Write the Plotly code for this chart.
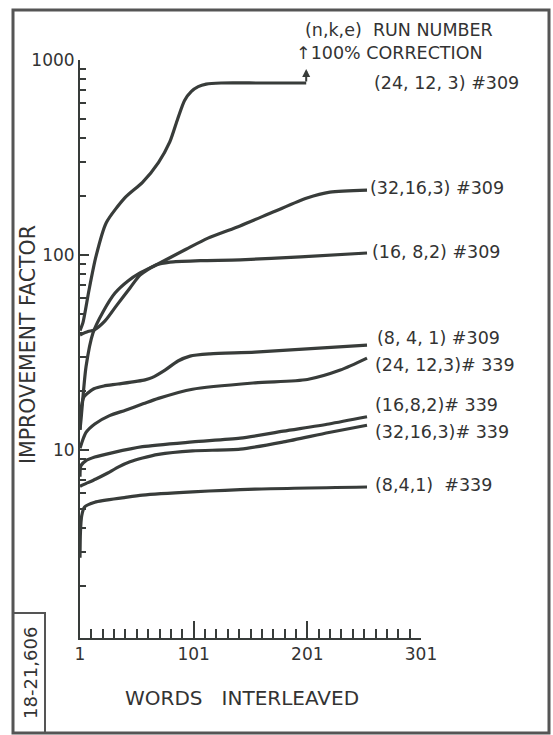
import math
import plotly.graph_objects as go

# ---------------- data ----------------
x_24_12_3_309 = [1, 3.6, 8.9, 15, 24, 41, 56, 70, 80, 87, 93, 99, 105, 112, 125, 160, 200]
y_24_12_3_309 = [41, 45, 66, 98, 146, 198, 236, 298, 380, 500, 620, 690, 730, 752, 762, 762, 762]

x_32_16_3_309 = [1, 1.9, 6.3, 12.4, 21.2, 31.8, 43.2, 53.8, 67.9, 94.3, 113.6, 141.8, 170.8, 200.7, 220.9, 253.5]
y_32_16_3_309 = [12.7, 14.3, 26.7, 39.8, 51, 63.8, 73.6, 80.9, 88.9, 107, 122, 141, 166, 196, 210, 215]

x_16_8_2_309 = [1, 8, 13.3, 23, 33.6, 45, 53.8, 67.9, 80.2, 107, 142, 195, 253.5]
y_16_8_2_309 = [38.9, 40.5, 41.2, 45.9, 55.5, 67.8, 78.9, 88.9, 92, 93.5, 94.5, 97.7, 102.4]

x_8_4_1_309 = [1, 1.8, 4.4, 7.9, 13.2, 22, 34.4, 58.2, 64.3, 75.8, 87.2, 97.8, 115.4, 155, 253.5]
y_8_4_1_309 = [12.7, 16, 18.7, 19.6, 20.6, 21.3, 21.8, 22.9, 23.5, 25.7, 28.6, 30.3, 31.1, 31.8, 34.5]

x_24_12_3_339 = [1, 6.3, 14, 27, 41, 57, 70, 100, 155, 201, 230, 253.5]
y_24_12_3_339 = [10.2, 12.3, 13.6, 15, 16, 17.3, 18.4, 20.5, 22.1, 23, 25.7, 29.6]

x_16_8_2_339 = [1, 1.8, 6, 14, 30, 56, 100, 142, 180, 220, 253.5]
y_16_8_2_339 = [7.3, 8.3, 8.8, 9.2, 9.7, 10.4, 11.0, 11.5, 12.5, 13.6, 14.8]

x_32_16_3_339 = [1, 3, 8, 15, 25, 35, 45, 56, 70, 100, 142, 180, 220, 253.5]
y_32_16_3_339 = [6.5, 6.6, 6.8, 7.1, 7.6, 8.2, 8.7, 9.1, 9.5, 9.9, 10.1, 11.0, 12.3, 13.4]

x_8_4_1_339 = [1, 1.4, 2.5, 5, 14, 40, 56, 100, 155, 253.5]
y_8_4_1_339 = [2.8, 3.8, 4.6, 5.1, 5.4, 5.7, 5.87, 6.1, 6.3, 6.46]

series_labels = ["(24, 12, 3) #309", "(32,16,3) #309", "(16, 8,2) #309", "(8, 4, 1) #309",
                 "(24, 12,3)# 339", "(16,8,2)# 339", "(32,16,3)# 339", "(8,4,1)  #339"]

x_tickvals = [1, 101, 201, 301]
x_ticktext = ["1", "101", "201", "301"]
x_minor = list(range(11, 301, 10))
y_tickvals = [10, 100, 1000]
y_ticktext = ["10", "100", "1000"]
y_minor = [m * d for d in (1, 10, 100) for m in range(2, 10)]

correction_run = 200  # x where 100% correction reached (arrow)

# ---------------- styling ----------------
W, H = 553, 735
L, T, PW, PH = 80, 60, 341, 578
INK = "#383c3a"
TXT = "#333333"
FONT = "DejaVu Sans"


def px(xp):
    return (xp - L) / PW


def py(yp):
    return (T + PH - yp) / PH


fig = go.Figure()
series = [
    (x_24_12_3_309, y_24_12_3_309), (x_32_16_3_309, y_32_16_3_309),
    (x_16_8_2_309, y_16_8_2_309), (x_8_4_1_309, y_8_4_1_309),
    (x_24_12_3_339, y_24_12_3_339), (x_16_8_2_339, y_16_8_2_339),
    (x_32_16_3_339, y_32_16_3_339), (x_8_4_1_339, y_8_4_1_339),
]
for (xs, ys), name in zip(series, series_labels):
    fig.add_trace(go.Scatter(x=xs, y=ys, mode="lines", name=name,
                             line=dict(color=INK, width=3.2, shape="spline", smoothing=0.7),
                             showlegend=False, hoverinfo="skip"))

ann = []
# curve labels (pixel positions)
label_pos = [(372, 83), (368, 188), (370, 252), (375, 338), (373, 365), (373, 405), (373, 432), (373, 485)]
for text, (xp, yp) in zip(series_labels, label_pos):
    ann.append(dict(x=px(xp), y=py(yp), xref="paper", yref="paper", text=text, showarrow=False,
                    xanchor="left", yanchor="middle", font=dict(family=FONT, size=17.5, color=TXT)))

ann.append(dict(x=px(303), y=py(30), xref="paper", yref="paper", text="(n,k,e)  RUN NUMBER",
                showarrow=False, xanchor="left", yanchor="middle", font=dict(family=FONT, size=17.5, color=TXT)))
ann.append(dict(x=px(294), y=py(53), xref="paper", yref="paper", text="↑100% CORRECTION",
                showarrow=False, xanchor="left", yanchor="middle", font=dict(family=FONT, size=17.5, color=TXT)))

# arrow at end of top curve
ann.append(dict(x=correction_run, y=math.log10(900), xref="x", yref="y", ax=0, ay=14,
                showarrow=True, arrowhead=2, arrowsize=0.8, arrowwidth=2, arrowcolor=INK, text=""))

# axis titles
ann.append(dict(x=px(242), y=py(698), xref="paper", yref="paper", text="WORDS   INTERLEAVED",
                showarrow=False, xanchor="center", yanchor="middle", font=dict(family=FONT, size=20, color=TXT)))
ann.append(dict(x=px(28), y=py(345), xref="paper", yref="paper", text="IMPROVEMENT FACTOR",
                showarrow=False, textangle=-90, xanchor="center", yanchor="middle",
                font=dict(family=FONT, size=20.5, color=TXT)))
# drawing number
ann.append(dict(x=px(30), y=py(673), xref="paper", yref="paper", text="18-21,606",
                showarrow=False, textangle=-90, xanchor="center", yanchor="middle",
                font=dict(family=FONT, size=18, color=TXT)))

shapes = [
    dict(type="rect", xref="paper", yref="paper", x0=px(13), x1=px(549), y0=py(10), y1=py(733),
         line=dict(color="#555555", width=3)),
    dict(type="rect", xref="paper", yref="paper", x0=px(13), x1=px(45), y0=py(613), y1=py(733),
         line=dict(color="#555555", width=2)),
]

axis_common = dict(showline=True, linecolor=INK, linewidth=2, ticks="inside", tickcolor=INK,
                   tickwidth=2, showgrid=False, zeroline=False,
                   tickfont=dict(family=FONT, size=17, color=TXT))

fig.update_layout(
    width=W, height=H, margin=dict(l=L, r=W - L - PW, t=T, b=H - T - PH),
    paper_bgcolor="white", plot_bgcolor="white",
    xaxis=dict(range=[1, 301], tickvals=x_tickvals, ticktext=x_ticktext, ticklen=17,
               minor=dict(tickvals=x_minor, ticks="inside", ticklen=9, tickwidth=1.5, tickcolor=INK),
               **axis_common),
    yaxis=dict(type="log", range=[3 - PH / 195.0, 3], tickvals=y_tickvals, ticktext=y_ticktext, ticklen=9,
               minor=dict(tickvals=y_minor, ticks="inside", ticklen=6, tickwidth=1.5, tickcolor=INK),
               **axis_common),
    annotations=ann, shapes=shapes,
)

fig.write_html("out.html")
